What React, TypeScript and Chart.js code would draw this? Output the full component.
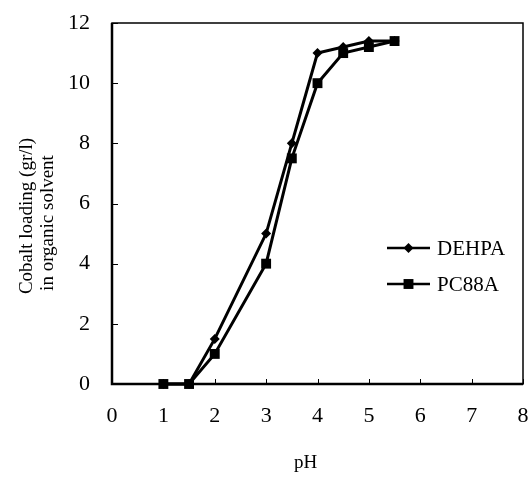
import React, { useEffect, useRef } from "react";
import { Chart, registerables } from "chart.js";

Chart.register(...registerables);

const phDEHPA = [1, 1.5, 2, 3, 3.5, 4, 4.5, 5, 5.5];
const loadDEHPA = [0, 0, 1.5, 5, 8, 11, 11.2, 11.4, 11.4];
const phPC88A = [1, 1.5, 2, 3, 3.5, 4, 4.5, 5, 5.5];
const loadPC88A = [0, 0, 1, 4, 7.5, 10, 11, 11.2, 11.4];
const seriesNames = ["DEHPA", "PC88A"];
const xTitle = "pH";
const yTitle = ["Cobalt loading (gr/l)", "in organic solvent"];
const xMin = 0;
const xMax = 8;
const yMin = 0;
const yMax = 12;

const FONT = "'Liberation Serif', 'Times New Roman', serif";

function drawMarker(ctx: CanvasRenderingContext2D, style: string, x: number, y: number, r: number) {
  ctx.beginPath();
  if (style === "rectRot") {
    ctx.moveTo(x - r, y);
    ctx.lineTo(x, y - r);
    ctx.lineTo(x + r, y);
    ctx.lineTo(x, y + r);
    ctx.closePath();
  } else {
    const s = r * Math.SQRT1_2;
    ctx.rect(x - s, y - s, 2 * s, 2 * s);
  }
  ctx.fill();
}

const framePlugin = {
  id: "frame",
  beforeDatasetsDraw(chart: any) {
    const { ctx, chartArea } = chart;
    const { left, right, top, bottom } = chartArea;
    ctx.save();
    ctx.strokeStyle = "#000";
    ctx.lineWidth = 1.5;
    ctx.strokeRect(left, top, right - left, bottom - top);
    ctx.lineWidth = 2.5;
    ctx.beginPath();
    ctx.moveTo(left, top);
    ctx.lineTo(left, bottom);
    ctx.lineTo(right, bottom);
    ctx.stroke();
    ctx.lineWidth = 1;
    const xs = chart.scales.x;
    const ys = chart.scales.y;
    ctx.beginPath();
    xs.ticks.forEach((t: any) => {
      const px = Math.round(xs.getPixelForValue(t.value)) + 0.5;
      ctx.moveTo(px, bottom);
      ctx.lineTo(px, bottom - 5);
    });
    ys.ticks.forEach((t: any) => {
      const py = Math.round(ys.getPixelForValue(t.value)) + 0.5;
      ctx.moveTo(left, py);
      ctx.lineTo(left + 6, py);
    });
    ctx.stroke();
    ctx.restore();
  },
  afterDraw(chart: any) {
    const { ctx, chartArea } = chart;
    const { left, right, top, bottom } = chartArea;
    ctx.save();
    ctx.fillStyle = "#000";
    ctx.strokeStyle = "#000";
    // axis titles
    ctx.font = `19px ${FONT}`;
    ctx.textAlign = "center";
    ctx.textBaseline = "alphabetic";
    ctx.fillText(xTitle, (left + right) / 2 - 12, 468);
    const titleX = [27, 48];
    const titleY = [216, 223];
    ctx.textBaseline = "middle";
    yTitle.forEach((line, i) => {
      ctx.save();
      ctx.translate(titleX[i], titleY[i]);
      ctx.rotate(-Math.PI / 2);
      ctx.fillText(line, 0, 0);
      ctx.restore();
    });
    // legend
    ctx.font = `21px ${FONT}`;
    ctx.textAlign = "left";
    ctx.textBaseline = "middle";
    chart.data.datasets.forEach((ds: any, i: number) => {
      const y = top + 225 + i * 36;
      const x0 = left + 275;
      const x1 = left + 318;
      ctx.lineWidth = 2.5;
      ctx.beginPath();
      ctx.moveTo(x0, y);
      ctx.lineTo(x1, y);
      ctx.stroke();
      drawMarker(ctx, ds.pointStyle, (x0 + x1) / 2, y, ds.pointStyle === "rectRot" ? 5 : 7);
      ctx.fillText(ds.label, x1 + 7, y + 1);
    });
    ctx.restore();
  },
};

export default function App() {
  const canvasRef = useRef<HTMLCanvasElement | null>(null);

  useEffect(() => {
    if (!canvasRef.current) return;
    const chart = new Chart(canvasRef.current, {
      type: "line",
      data: {
        datasets: [
          {
            label: seriesNames[0],
            data: phDEHPA.map((x, i) => ({ x, y: loadDEHPA[i] })),
            borderColor: "#000",
            backgroundColor: "#000",
            borderWidth: 3,
            pointStyle: "rectRot",
            pointRadius: 5,
            pointBorderWidth: 0,
            clip: false,
          },
          {
            label: seriesNames[1],
            data: phPC88A.map((x, i) => ({ x, y: loadPC88A[i] })),
            borderColor: "#000",
            backgroundColor: "#000",
            borderWidth: 3,
            pointStyle: "rect",
            pointRadius: 7,
            pointBorderWidth: 0,
            clip: false,
          },
        ],
      },
      options: {
        animation: false,
        responsive: true,
        maintainAspectRatio: false,
        layout: { padding: { left: 0, right: 7, top: 23, bottom: 0 } },
        plugins: { legend: { display: false }, tooltip: { enabled: false } },
        scales: {
          x: {
            type: "linear",
            min: xMin,
            max: xMax,
            grid: { display: false, drawTicks: false },
            border: { display: false },
            ticks: {
              stepSize: 1,
              padding: 19,
              color: "#000",
              font: { family: FONT, size: 22 },
            },
            afterFit(scale: any) {
              scale.height = 93;
              scale.paddingLeft = 0;
              scale.paddingRight = 0;
            },
          },
          y: {
            type: "linear",
            min: yMin,
            max: yMax,
            grid: { display: false, drawTicks: false },
            border: { display: false },
            ticks: {
              stepSize: 2,
              padding: 22,
              color: "#000",
              font: { family: FONT, size: 22 },
            },
            afterFit(scale: any) {
              scale.width = 112;
              scale.paddingTop = 0;
              scale.paddingBottom = 0;
            },
          },
        },
      },
      plugins: [framePlugin],
    } as any);
    return () => chart.destroy();
  }, []);

  return (
    <div style={{ position: "absolute", left: 0, top: 0, width: 530, height: 477, background: "#fff" }}>
      <canvas ref={canvasRef} />
    </div>
  );
}
